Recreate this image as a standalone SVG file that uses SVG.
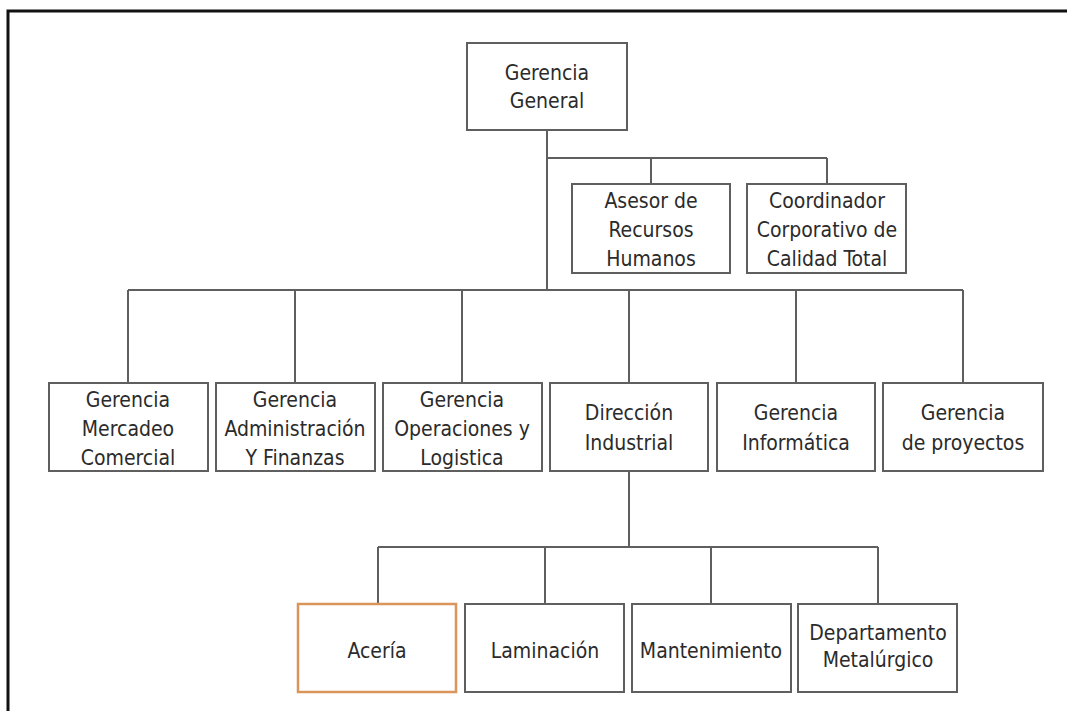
<svg xmlns="http://www.w3.org/2000/svg" width="1067" height="711" viewBox="0 0 1067 711">
  <style>
    .box { fill: #ffffff; stroke: #5f5f5f; stroke-width: 2; }
    .box.hl { stroke: #d9955a; stroke-width: 2.5; }
    .lbl { font-family: "DejaVu Sans", "Liberation Sans", sans-serif; font-stretch: condensed; font-size: 21px; fill: #2b2b2b; text-anchor: middle; }
    .link { fill: none; stroke: #5f5f5f; stroke-width: 2; }
    .frame { fill: none; stroke: #111111; stroke-width: 3; }
  </style>
  <rect x="0" y="0" width="1067" height="711" fill="#ffffff"/>
  <!-- outer frame: top and left edges only -->
  <path class="frame" d="M8 711 V11 H1067"/>

  <g id="connectors">
    <!-- top level trunk and staff branch -->
    <path class="link" d="M547 130 V290"/>
    <path class="link" d="M547 158 H827 M651 158 V184 M827 158 V184"/>
    <!-- second level bus -->
    <path class="link" d="M128 290 H963 M128 290 V383 M295 290 V383 M462 290 V383 M629 290 V383 M796 290 V383 M963 290 V383"/>
    <!-- industrial branch -->
    <path class="link" d="M629 471 V547 M378 547 H878 M378 547 V604 M545 547 V604 M711 547 V604 M878 547 V604"/>
  </g>

  <g id="gerencia-general">
    <rect class="box" x="467" y="43" width="160" height="87"/>
    <text class="lbl" x="547" y="80">Gerencia</text>
    <text class="lbl" x="547" y="108">General</text>
  </g>

  <g id="asesor-rrhh">
    <rect class="box" x="572" y="184" width="158" height="89"/>
    <text class="lbl" x="651" y="208">Asesor de</text>
    <text class="lbl" x="651" y="237">Recursos</text>
    <text class="lbl" x="651" y="266">Humanos</text>
  </g>

  <g id="coordinador-calidad">
    <rect class="box" x="747" y="184" width="159" height="89"/>
    <text class="lbl" x="827" y="208">Coordinador</text>
    <text class="lbl" x="827" y="237">Corporativo de</text>
    <text class="lbl" x="827" y="266">Calidad Total</text>
  </g>

  <g id="gerencia-mercadeo">
    <rect class="box" x="49" y="383" width="159" height="88"/>
    <text class="lbl" x="128" y="407">Gerencia</text>
    <text class="lbl" x="128" y="436">Mercadeo</text>
    <text class="lbl" x="128" y="465">Comercial</text>
  </g>

  <g id="gerencia-administracion">
    <rect class="box" x="216" y="383" width="159" height="88"/>
    <text class="lbl" x="295" y="407">Gerencia</text>
    <text class="lbl" x="295" y="436">Administración</text>
    <text class="lbl" x="295" y="465">Y Finanzas</text>
  </g>

  <g id="gerencia-operaciones">
    <rect class="box" x="383" y="383" width="159" height="88"/>
    <text class="lbl" x="462" y="407">Gerencia</text>
    <text class="lbl" x="462" y="436">Operaciones y</text>
    <text class="lbl" x="462" y="465">Logistica</text>
  </g>

  <g id="direccion-industrial">
    <rect class="box" x="550" y="383" width="158" height="88"/>
    <text class="lbl" x="629" y="420">Dirección</text>
    <text class="lbl" x="629" y="450">Industrial</text>
  </g>

  <g id="gerencia-informatica">
    <rect class="box" x="717" y="383" width="158" height="88"/>
    <text class="lbl" x="796" y="420">Gerencia</text>
    <text class="lbl" x="796" y="450">Informática</text>
  </g>

  <g id="gerencia-proyectos">
    <rect class="box" x="883" y="383" width="160" height="88"/>
    <text class="lbl" x="963" y="420">Gerencia</text>
    <text class="lbl" x="963" y="450">de proyectos</text>
  </g>

  <g id="aceria">
    <rect class="box hl" x="298" y="604" width="158" height="88"/>
    <text class="lbl" x="377" y="658">Acería</text>
  </g>

  <g id="laminacion">
    <rect class="box" x="465" y="604" width="159" height="88"/>
    <text class="lbl" x="545" y="658">Laminación</text>
  </g>

  <g id="mantenimiento">
    <rect class="box" x="632" y="604" width="159" height="88"/>
    <text class="lbl" x="711" y="658">Mantenimiento</text>
  </g>

  <g id="departamento-metalurgico">
    <rect class="box" x="798" y="604" width="159" height="88"/>
    <text class="lbl" x="878" y="640">Departamento</text>
    <text class="lbl" x="878" y="667">Metalúrgico</text>
  </g>
</svg>
